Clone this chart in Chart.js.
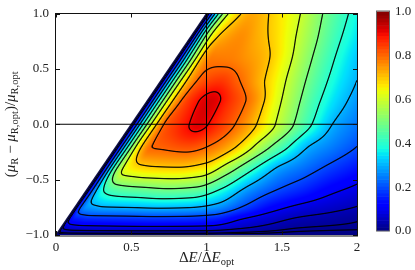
<!DOCTYPE html>
<html>
<head>
<meta charset="utf-8">
<script src="https://cdn.jsdelivr.net/npm/chart.js@4.4.0/dist/chart.umd.min.js"></script>
<style>
html, body { margin: 0; padding: 0; background: #fff; }
</style>
</head>
<body>
<canvas id="chart" width="415" height="270"></canvas>
<script>
// grid of read values: one row per y, columns are the fraction s of the way
// from the left edge of the region (x = (y + 1) / 2) to x = 2
const yRows = [-1, -0.93, -0.85, -0.75, -0.6, -0.4, -0.2, 0, 0.2, 0.4, 0.6, 0.8, 1];
const sCols = [0, 0.01, 0.025, 0.045, 0.07, 0.1, 0.15, 0.2, 0.3, 0.4, 0.5, 0.6, 0.7, 0.8, 0.9, 1];

const zM100 = [0, 0, 0, 0, 0, 0, 0, 0, 0, 0, 0, 0, 0, 0, 0, 0];
const zM093 = [0, 0.058, 0.073, 0.08, 0.083, 0.085, 0.087, 0.089, 0.091, 0.09, 0.086, 0.06, 0.039, 0.022, 0.017, 0.014];
const zM085 = [0, 0.107, 0.15, 0.16, 0.17, 0.171, 0.173, 0.175, 0.18, 0.178, 0.164, 0.106, 0.071, 0.046, 0.035, 0.024];
const zM075 = [0, 0.12, 0.221, 0.272, 0.284, 0.295, 0.299, 0.302, 0.31, 0.304, 0.272, 0.19, 0.122, 0.086, 0.066, 0.048];
const zM060 = [0, 0.108, 0.22, 0.336, 0.409, 0.439, 0.456, 0.464, 0.48, 0.466, 0.383, 0.268, 0.198, 0.155, 0.112, 0.084];
const zM040 = [0, 0.105, 0.226, 0.393, 0.543, 0.638, 0.673, 0.685, 0.69, 0.663, 0.542, 0.4, 0.282, 0.229, 0.181, 0.14];
const zM020 = [0, 0.1, 0.215, 0.371, 0.531, 0.68, 0.8, 0.811, 0.83, 0.789, 0.7, 0.558, 0.425, 0.3, 0.247, 0.2];
const zP000 = [0, 0.094, 0.198, 0.348, 0.503, 0.652, 0.809, 0.854, 0.917, 0.85, 0.762, 0.646, 0.525, 0.4, 0.293, 0.24];
const zP020 = [0, 0.088, 0.19, 0.329, 0.48, 0.623, 0.78, 0.855, 0.925, 0.855, 0.773, 0.646, 0.533, 0.423, 0.335, 0.27];
const zP040 = [0, 0.081, 0.179, 0.307, 0.452, 0.593, 0.745, 0.813, 0.85, 0.8, 0.724, 0.636, 0.538, 0.443, 0.363, 0.3];
const zP060 = [0, 0.075, 0.167, 0.285, 0.424, 0.559, 0.73, 0.78, 0.776, 0.75, 0.71, 0.636, 0.546, 0.46, 0.384, 0.32];
const zP080 = [0, 0.073, 0.166, 0.286, 0.422, 0.55, 0.68, 0.728, 0.76, 0.725, 0.683, 0.622, 0.55, 0.475, 0.406, 0.35];
const zP100 = [0, 0.063, 0.142, 0.24, 0.357, 0.474, 0.607, 0.673, 0.733, 0.705, 0.66, 0.614, 0.55, 0.482, 0.424, 0.37];
const zRows = [zM100, zM093, zM085, zM075, zM060, zM040, zM020, zP000, zP020, zP040, zP060, zP080, zP100];

const contourLevels = [0.01, 0.02, 0.05, 0.1, 0.2, 0.3, 0.4, 0.5, 0.6, 0.7, 0.8, 0.9];

// left edge of the region, and the optimum cross
const edgeX = [0, 1];
const edgeY = [-1, 1];
const optX = 1;
const optY = 0;

const xTicks = [0, 0.5, 1, 1.5, 2];
const xTickLabels = ['0', '0.5', '1', '1.5', '2'];
const yTicks = [-1, -0.5, 0, 0.5, 1];
const yTickLabels = ['\u22121.0', '\u22120.5', '0.0', '0.5', '1.0'];
const cbTicks = [0, 0.2, 0.4, 0.6, 0.8, 1];
const cbTickLabels = ['0.0', '0.2', '0.4', '0.6', '0.8', '1.0'];

const serif = "'Liberation Serif', 'DejaVu Serif', serif";

// matplotlib jet
function jet(v) {
    const f = (xs, ys) => {
        if (v <= xs[0]) return ys[0];
        for (let i = 1; i < xs.length; i++) {
            if (v <= xs[i]) return ys[i - 1] + (ys[i] - ys[i - 1]) * (v - xs[i - 1]) / (xs[i] - xs[i - 1]);
        }
        return ys[ys.length - 1];
    };
    return [
        f([0, 0.35, 0.66, 0.89, 1], [0, 0, 1, 1, 0.5]),
        f([0, 0.125, 0.375, 0.64, 0.91, 1], [0, 0, 1, 1, 0, 0]),
        f([0, 0.11, 0.34, 0.65, 1], [0.5, 1, 1, 0, 0])
    ].map(c => Math.round(c * 255));
}

// monotone cubic through the read values
function slopes(xs, ys) {
    const n = xs.length, d = [], m = new Array(n).fill(0);
    for (let i = 0; i < n - 1; i++) d.push((ys[i + 1] - ys[i]) / (xs[i + 1] - xs[i]));
    m[0] = d[0];
    m[n - 1] = d[n - 2];
    for (let i = 1; i < n - 1; i++) {
        if (d[i - 1] * d[i] <= 0) continue;
        const h0 = xs[i] - xs[i - 1], h1 = xs[i + 1] - xs[i];
        const w1 = 2 * h1 + h0, w2 = h1 + 2 * h0;
        m[i] = (w1 + w2) / (w1 / d[i - 1] + w2 / d[i]);
    }
    return m;
}

function hermite(xs, ys, ms, x) {
    let i = 0;
    while (i < xs.length - 2 && x > xs[i + 1]) i++;
    const h = xs[i + 1] - xs[i];
    const t = Math.min(1, Math.max(0, (x - xs[i]) / h));
    const t2 = t * t, t3 = t2 * t;
    return (2 * t3 - 3 * t2 + 1) * ys[i] + (t3 - 2 * t2 + t) * h * ms[i] +
        (-2 * t3 + 3 * t2) * ys[i + 1] + (t3 - t2) * h * ms[i + 1];
}

const rowSlopes = zRows.map(r => slopes(sCols, r));

function fieldAt(x, y) {
    const x0 = (y + 1) / 2;
    if (x < x0) return null;
    const s = (x - x0) / (2 - x0);
    const col = zRows.map((r, i) => hermite(sCols, r, rowSlopes[i], s));
    return Math.max(0, hermite(yRows, col, slopes(yRows, col), y));
}

let fieldImage = null;

const heatmapPlugin = {
    id: 'heatmap',
    beforeDatasetsDraw(chart) {
        const { ctx, chartArea: a, scales: { x: xs, y: ys } } = chart;
        const L = Math.round(a.left), T = Math.round(a.top);
        const W = Math.round(a.right) - L, H = Math.round(a.bottom) - T;
        if (!fieldImage) {
            const vals = new Float32Array(W * H).fill(NaN);
            for (let j = 0; j < H; j++) {
                const y = ys.getValueForPixel(T + j + 0.5);
                for (let i = 0; i < W; i++) {
                    const v = fieldAt(xs.getValueForPixel(L + i + 0.5), y);
                    if (v !== null) vals[j * W + i] = v;
                }
            }
            const off = document.createElement('canvas');
            off.width = W;
            off.height = H;
            const octx = off.getContext('2d');
            const img = octx.createImageData(W, H);
            const at = (i, j) => vals[Math.min(H - 1, Math.max(0, j)) * W + Math.min(W - 1, Math.max(0, i))];
            for (let j = 0; j < H; j++) {
                for (let i = 0; i < W; i++) {
                    const v = vals[j * W + i];
                    if (isNaN(v)) continue;
                    const [r, g, b] = jet(v);
                    let gx = (at(i + 1, j) - at(i - 1, j)) / 2;
                    let gy = (at(i, j + 1) - at(i, j - 1)) / 2;
                    if (isNaN(gx)) gx = at(i + 1, j) - v;
                    if (isNaN(gy)) gy = at(i, j - 1) - v;
                    const grad = Math.hypot(gx || 0, gy || 0) || 1e-6;
                    let ink = 0;
                    for (const lv of contourLevels) {
                        const dist = Math.abs(v - lv) / grad;
                        ink = Math.max(ink, Math.min(1, Math.max(0, 1.2 - dist * 1.1)));
                    }
                    ink *= 0.9;
                    const k = (j * W + i) * 4;
                    img.data[k] = r * (1 - ink);
                    img.data[k + 1] = g * (1 - ink);
                    img.data[k + 2] = b * (1 - ink);
                    img.data[k + 3] = 255;
                }
            }
            octx.putImageData(img, 0, 0);
            fieldImage = off;
        }
        ctx.drawImage(fieldImage, L, T);
    },
    afterDraw(chart) {
        const { ctx, chartArea: a, scales: { x: xs, y: ys } } = chart;
        ctx.save();
        // frame and inward ticks
        ctx.strokeStyle = '#111';
        ctx.lineWidth = 1;
        ctx.strokeRect(Math.round(a.left) - 0.5, Math.round(a.top) - 0.5, a.right - a.left + 1, a.bottom - a.top + 1);
        ctx.beginPath();
        xTicks.forEach(v => {
            const px = Math.round(xs.getPixelForValue(v)) + 0.5;
            ctx.moveTo(px, a.bottom); ctx.lineTo(px, a.bottom - 4);
            ctx.moveTo(px, a.top); ctx.lineTo(px, a.top + 4);
        });
        yTicks.forEach(v => {
            const py = Math.round(ys.getPixelForValue(v)) + 0.5;
            ctx.moveTo(a.left, py); ctx.lineTo(a.left + 4, py);
            ctx.moveTo(a.right, py); ctx.lineTo(a.right - 4, py);
        });
        ctx.stroke();

        // colour bar
        const cbL = 377, cbR = 389, cbT = 11.5, cbB = 230.5;
        const steps = 64;
        for (let k = 0; k < steps; k++) {
            const [r, g, b] = jet((k + 0.5) / steps);
            ctx.fillStyle = `rgb(${r},${g},${b})`;
            const y1 = cbB - (cbB - cbT) * k / steps, y2 = cbB - (cbB - cbT) * (k + 1) / steps;
            ctx.fillRect(cbL, y2, cbR - cbL, y1 - y2 + 0.6);
        }
        ctx.strokeStyle = '#666';
        ctx.strokeRect(cbL - 0.5, cbT - 0.5, cbR - cbL + 1, cbB - cbT + 1);
        ctx.fillStyle = '#222';
        ctx.font = `13px ${serif}`;
        ctx.textAlign = 'left';
        ctx.textBaseline = 'middle';
        cbTicks.forEach((v, i) => {
            ctx.fillText(cbTickLabels[i], 395, cbB - (cbB - cbT) * v + 0.5);
        });

        // axis titles with subscripts
        const drawRuns = (runs, cx, cy) => {
            let total = 0;
            runs.forEach(r => { ctx.font = r.font; total += ctx.measureText(r.t).width; });
            let x = cx - total / 2;
            ctx.textAlign = 'left';
            ctx.textBaseline = 'alphabetic';
            runs.forEach(r => {
                ctx.font = r.font;
                ctx.fillText(r.t, x, cy + (r.dy || 0));
                x += ctx.measureText(r.t).width;
            });
        };
        const rm = `15px ${serif}`, it = `italic 15px ${serif}`, sub = `10.5px ${serif}`;
        drawRuns([
            { t: '\u0394', font: rm }, { t: 'E', font: it }, { t: '/\u0394', font: rm },
            { t: 'E', font: it }, { t: 'opt', font: sub, dy: 3 }
        ], (a.left + a.right) / 2, 262);
        ctx.translate(15, (a.top + a.bottom) / 2);
        ctx.rotate(-Math.PI / 2);
        drawRuns([
            { t: '(', font: rm }, { t: '\u03bc', font: it }, { t: 'R', font: sub, dy: 3 },
            { t: ' \u2212 ', font: rm }, { t: '\u03bc', font: it }, { t: 'R,opt', font: sub, dy: 3 },
            { t: ')/', font: rm }, { t: '\u03bc', font: it }, { t: 'R,opt', font: sub, dy: 3 }
        ], 0, 0);
        ctx.restore();
    }
};

const lineStyle = { showLine: true, pointRadius: 0, borderWidth: 1, borderColor: '#000' };

new Chart(document.getElementById('chart'), {
    type: 'scatter',
    data: {
        datasets: [
            { ...lineStyle, data: [{ x: optX, y: -1 }, { x: optX, y: 1 }] },
            { ...lineStyle, data: [{ x: 0, y: optY }, { x: 2, y: optY }] },
            { ...lineStyle, borderColor: '#10104a', borderWidth: 1.3, data: edgeX.map((x, i) => ({ x, y: edgeY[i] })) }
        ]
    },
    options: {
        responsive: false,
        animation: false,
        events: [],
        layout: { padding: { left: 0, top: 7, right: 58, bottom: 0 } },
        plugins: { legend: { display: false }, tooltip: { enabled: false } },
        scales: {
            x: {
                type: 'linear', min: 0, max: 2,
                afterBuildTicks: s => { s.ticks = xTicks.map(v => ({ value: v })); },
                afterFit: s => { s.height = 35; },
                grid: { display: false, drawTicks: false },
                border: { display: false },
                ticks: {
                    padding: 6, color: '#222', maxRotation: 0,
                    font: { family: serif, size: 13, lineHeight: 1 },
                    callback: (v, i) => xTickLabels[i]
                }
            },
            y: {
                type: 'linear', min: -1, max: 1,
                afterBuildTicks: s => { s.ticks = yTicks.map(v => ({ value: v })); },
                afterFit: s => { s.width = 56; },
                grid: { display: false, drawTicks: false },
                border: { display: false },
                ticks: {
                    padding: 7, color: '#222',
                    font: { family: serif, size: 13, lineHeight: 1 },
                    callback: (v, i) => yTickLabels[i]
                }
            }
        }
    },
    plugins: [heatmapPlugin]
});
</script>
</body>
</html>
